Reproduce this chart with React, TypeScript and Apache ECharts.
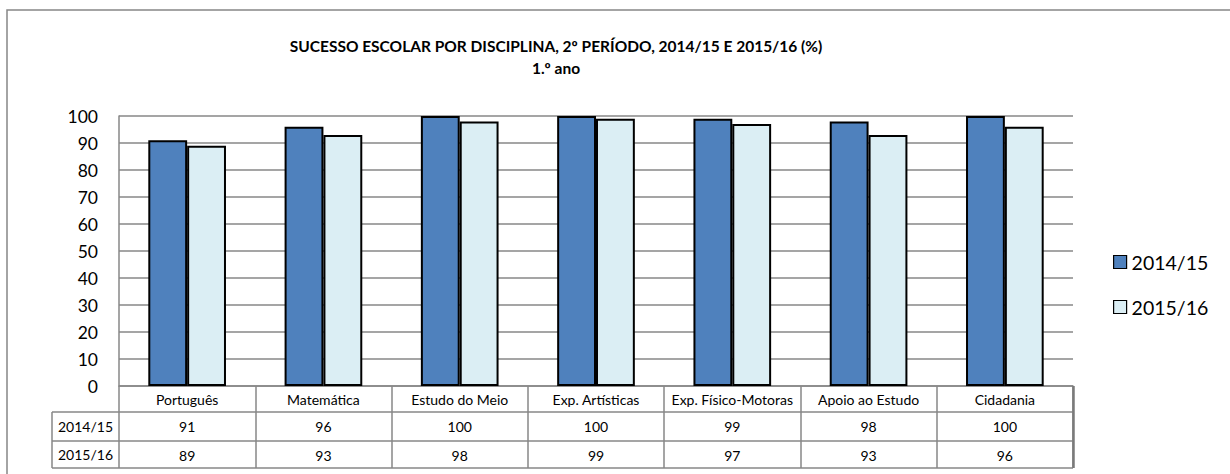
import React, { useEffect, useRef } from "react";
import * as echarts from "echarts";

const categories = [
  "Português",
  "Matemática",
  "Estudo do Meio",
  "Exp. Artísticas",
  "Exp. Físico-Motoras",
  "Apoio ao Estudo",
  "Cidadania",
];
const seriesNames = ["2014/15", "2015/16"];
const values2014 = [91, 96, 100, 100, 99, 98, 100];
const values2015 = [89, 93, 98, 99, 97, 93, 96];
const titleLines = [
  "SUCESSO ESCOLAR POR DISCIPLINA, 2º PERÍODO, 2014/15 E 2015/16 (%)",
  "1.º ano",
];

const FONT = "Lato, 'Open Sans', sans-serif";
const GRAY = "#878787";

// layout
const L = 119;
const R = 1073;
const T = 116;
const B = 386;
const ROW1 = 412;
const ROW2 = 441;
const ROW3 = 468;
const LABEL_COL = 52;

export default function App() {
  const ref = useRef<HTMLDivElement>(null);
  useEffect(() => {
    if (!ref.current) return;
    const chart = echarts.init(ref.current, null, { renderer: "svg" });
    const hLine = (y: number, x1: number, x2: number, w = 1.5, c = GRAY) => ({
      type: "line",
      shape: { x1, y1: y, x2, y2: y },
      style: { stroke: c, lineWidth: w },
      z: 10,
    });
    const vLine = (x: number, y1: number, y2: number, w = 1.5, c = GRAY) => ({
      type: "line",
      shape: { x1: x, y1, x2: x, y2 },
      style: { stroke: c, lineWidth: w },
      z: 10,
    });
    const titleText = (text: string, y: number) => ({
      type: "text",
      x: 556,
      y,
      style: {
        text,
        align: "center",
        verticalAlign: "middle",
        fontSize: 15.5,
        fontWeight: "bold",
        fontFamily: FONT,
        fill: "#000",
      },
    });
    const rowLabel = (text: string, y: number) => ({
      type: "text",
      x: (LABEL_COL + L) / 2,
      y,
      style: {
        text,
        align: "center",
        verticalAlign: "middle",
        fontSize: 14,
        fontFamily: FONT,
        fill: "#000",
      },
    });
    const valueAxis = (offset: number, vals: number[]) => ({
      type: "category",
      data: categories,
      position: "bottom",
      offset,
      axisLine: { show: false },
      axisTick: { show: false },
      axisLabel: {
        interval: 0,
        margin: 7,
        fontSize: 14,
        lineHeight: 14,
        fontFamily: FONT,
        color: "#000",
        formatter: (_v: string, i: number) => String(vals[i]),
      },
    });
    chart.setOption({
      animation: false,
      backgroundColor: "#fff",
      grid: { left: L, top: T, width: R - L, height: B - T, containLabel: false },
      legend: {
        orient: "vertical",
        left: 1108,
        top: 247,
        itemWidth: 13,
        itemHeight: 13,
        itemGap: 25,
        icon: "rect",
        data: seriesNames,
        itemStyle: { borderWidth: 1.2 },
        textStyle: { fontSize: 19.5, fontFamily: FONT, color: "#000" },
      },
      xAxis: [
        {
          type: "category",
          data: categories,
          position: "bottom",
          axisLine: { show: true, lineStyle: { color: GRAY, width: 1.5 } },
          axisTick: {
            show: true,
            interval: 0,
            length: ROW3 - B,
            lineStyle: { color: GRAY, width: 1.5 },
          },
          axisLabel: {
            interval: 0,
            margin: 6,
            fontSize: 14,
            lineHeight: 14,
            fontFamily: FONT,
            color: "#000",
          },
        },
        valueAxis(ROW1 - B, values2014),
        valueAxis(ROW2 - B, values2015),
      ],
      yAxis: {
        type: "value",
        min: 0,
        max: 100,
        interval: 10,
        axisLine: { show: true, lineStyle: { color: GRAY, width: 1.5 } },
        axisTick: { show: false },
        axisLabel: { margin: 21, fontSize: 17.5, fontFamily: FONT, color: "#000" },
        splitLine: { show: true, lineStyle: { color: GRAY, width: 1.5 } },
      },
      series: [
        {
          name: seriesNames[0],
          type: "bar",
          data: values2014,
          xAxisIndex: 0,
          barGap: "0%",
          barCategoryGap: "43%",
          itemStyle: { color: "#4F81BD", borderColor: "#000", borderWidth: 2 },
        },
        {
          name: seriesNames[1],
          type: "bar",
          data: values2015,
          xAxisIndex: 0,
          barGap: "0%",
          barCategoryGap: "43%",
          itemStyle: { color: "#DBEEF4", borderColor: "#000", borderWidth: 2 },
        },
      ],
      graphic: [
        {
          type: "rect",
          shape: { x: 7, y: 10, width: 1240, height: 480 },
          style: { fill: "none", stroke: GRAY, lineWidth: 1.5 },
          z: 1,
        },
        titleText(titleLines[0], 46),
        titleText(titleLines[1], 68),
        hLine(ROW1, LABEL_COL, R),
        hLine(ROW2, LABEL_COL, R),
        hLine(ROW3, LABEL_COL, R),
        vLine(LABEL_COL, ROW1, ROW3),
        vLine(R + 0.5, B, ROW3, 2.5, "#7a7a7a"),
        rowLabel(seriesNames[0], (ROW1 + ROW2) / 2),
        rowLabel(seriesNames[1], (ROW2 + ROW3) / 2),
      ],
    });
    return () => chart.dispose();
  }, []);
  return (
    <div
      ref={ref}
      style={{ position: "fixed", left: 0, top: 0, width: 1230, height: 474 }}
    />
  );
}
